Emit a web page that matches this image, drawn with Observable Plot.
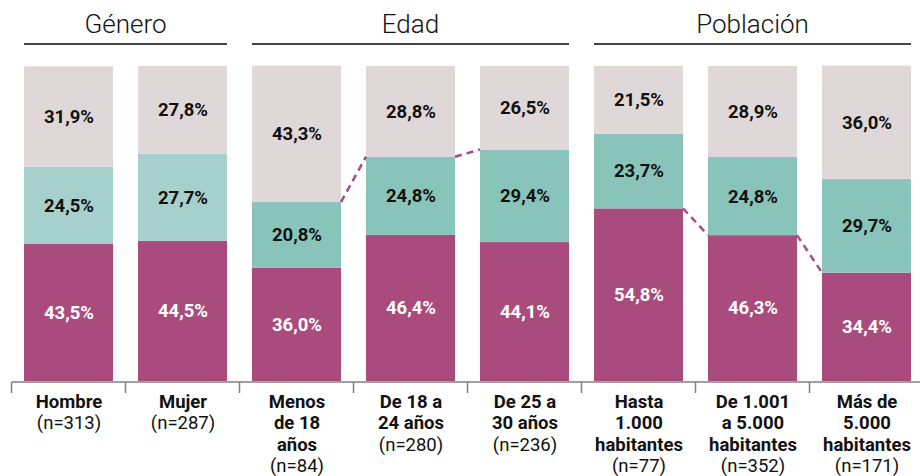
<!DOCTYPE html>
<html>
<head>
<meta charset="utf-8">
<script src="https://cdn.jsdelivr.net/npm/d3@7"></script>
<script src="https://cdn.jsdelivr.net/npm/@observablehq/plot@0.6"></script>
<style>
  html, body { margin: 0; padding: 0; background: #fff; }
  #chart svg { display: block; }
</style>
</head>
<body>
<div id="chart"></div>
<script>
// ---- data ----
const cats = ["Hombre", "Mujer", "Menos de 18 años", "De 18 a 24 años", "De 25 a 30 años",
  "Hasta 1.000 habitantes", "De 1.001 a 5.000 habitantes", "Más de 5.000 habitantes"];
const catLabels = ["Hombre", "Mujer", "Menos\nde 18\naños", "De 18 a\n24 años", "De 25 a\n30 años",
  "Hasta\n1.000\nhabitantes", "De 1.001\na 5.000\nhabitantes", "Más de\n5.000\nhabitantes"];
const sampleSizes = ["(n=313)", "(n=287)", "(n=84)", "(n=280)", "(n=236)", "(n=77)", "(n=352)", "(n=171)"];
const catGroup = ["Género", "Género", "Edad", "Edad", "Edad", "Población", "Población", "Población"];
const groupNames = ["Género", "Edad", "Población"];
const pctLow  = [43.5, 44.5, 36.0, 46.4, 44.1, 54.8, 46.3, 34.4];
const pctMid  = [24.5, 27.7, 20.8, 24.8, 29.4, 23.7, 24.8, 29.7];
const pctHigh = [31.9, 27.8, 43.3, 28.8, 26.5, 21.5, 28.9, 36.0];
// dashed connectors: which categories are linked and at which stacked level
const edadConnected = ["Menos de 18 años", "De 18 a 24 años", "De 25 a 30 años"];   // top of middle segment
const poblConnected = ["Hasta 1.000 habitantes", "De 1.001 a 5.000 habitantes", "Más de 5.000 habitantes"]; // top of low segment

// ---- table ----
const table = [];
cats.forEach((c, i) => {
  table.push({cat: c, key: "low", value: pctLow[i]});
  table.push({cat: c, key: catGroup[i] === "Género" ? "midLight" : "mid", value: pctMid[i]});
  table.push({cat: c, key: "high", value: pctHigh[i]});
});
const fmt = v => v.toFixed(1).replace(".", ",") + "%";

const MAG = "#a94c7d";

function decorations(index, scales) {
  const xs = scales.x, ys = scales.y;
  const bw = xs.bandwidth ? xs.bandwidth() : scales.scales.x.bandwidth;
  const step = xs(cats[1]) - xs(cats[0]);
  const gap = step - bw;
  const g = d3.create("svg:g");
  // axis line and ticks
  const y0 = ys(0) + 1;
  const xStart = xs(cats[0]) - gap / 2;
  const xEnd = xs(cats[cats.length - 1]) + bw + gap / 2;
  g.append("line").attr("x1", xStart).attr("x2", xEnd).attr("y1", y0).attr("y2", y0)
    .attr("stroke", "#808080").attr("stroke-width", 1.5);
  cats.forEach(c => {
    const tx = xs(c) - gap / 2;
    g.append("line").attr("x1", tx).attr("x2", tx).attr("y1", y0).attr("y2", y0 + 11)
      .attr("stroke", "#808080").attr("stroke-width", 1.5);
  });
  // group headers
  groupNames.forEach(gn => {
    const members = cats.filter((c, i) => catGroup[i] === gn);
    const a = xs(members[0]), b = xs(members[members.length - 1]) + bw;
    g.append("line").attr("x1", a).attr("x2", b).attr("y1", 44).attr("y2", 44)
      .attr("stroke", "#444").attr("stroke-width", 2);
    g.append("text").attr("x", (a + b) / 2).attr("y", 33).attr("text-anchor", "middle")
      .attr("font-family", "Roboto, sans-serif").attr("font-weight", 300).attr("font-size", 26)
      .attr("fill", "#111").text(gn);
  });
  // dashed connectors
  const level = (c, which) => {
    const i = cats.indexOf(c);
    return which === "mid" ? pctLow[i] + pctMid[i] : pctLow[i];
  };
  const drawConn = (list, which) => {
    for (let k = 0; k < list.length - 1; k++) {
      const a = list[k], b = list[k + 1];
      g.append("line")
        .attr("x1", xs(a) + bw).attr("y1", ys(level(a, which)))
        .attr("x2", xs(b)).attr("y2", ys(level(b, which)))
        .attr("stroke", MAG).attr("stroke-width", 2.5).attr("stroke-dasharray", "7,5");
    }
  };
  drawConn(edadConnected, "mid");
  drawConn(poblConnected, "low");
  return g.node();
}

const chart = Plot.plot({
  width: 920,
  height: 476,
  marginTop: 66,
  marginBottom: 95,
  marginLeft: 8,
  marginRight: 0,
  style: {fontFamily: "Roboto, sans-serif", background: "#fff"},
  x: {domain: cats, range: [10, 924], paddingInner: 0.22, paddingOuter: 0.11, axis: null},
  y: {domain: [0, 100], range: [381, 66], axis: null},
  color: {domain: ["low", "mid", "midLight", "high"], range: [MAG, "#89c4bb", "#a5d0cb", "#e0d8d8"]},
  marks: [
    Plot.barY(table, Plot.stackY({x: "cat", y: "value", fill: "key"})),
    Plot.text(table, Plot.stackY({
      x: "cat", y: "value", text: d => fmt(d.value),
      fill: d => d.key === "low" ? "#ffffff" : "#111111",
      fontSize: 18.5, fontWeight: "bold"
    })),
    Plot.text(cats, {
      x: d => d, text: (d, i) => catLabels[i], frameAnchor: "bottom", lineAnchor: "top", dy: 11,
      fontSize: 18.5, fontWeight: "bold", lineHeight: 1.16, fill: "#111"
    }),
    Plot.text(cats, {
      x: d => d, text: (d, i) => "\n".repeat(catLabels[i].split("\n").length) + sampleSizes[i],
      frameAnchor: "bottom", lineAnchor: "top", dy: 11,
      fontSize: 18.5, fontWeight: "normal", lineHeight: 1.16, fill: "#111"
    }),
    decorations
  ]
});
document.getElementById("chart").appendChild(chart);
</script>
</body>
</html>
